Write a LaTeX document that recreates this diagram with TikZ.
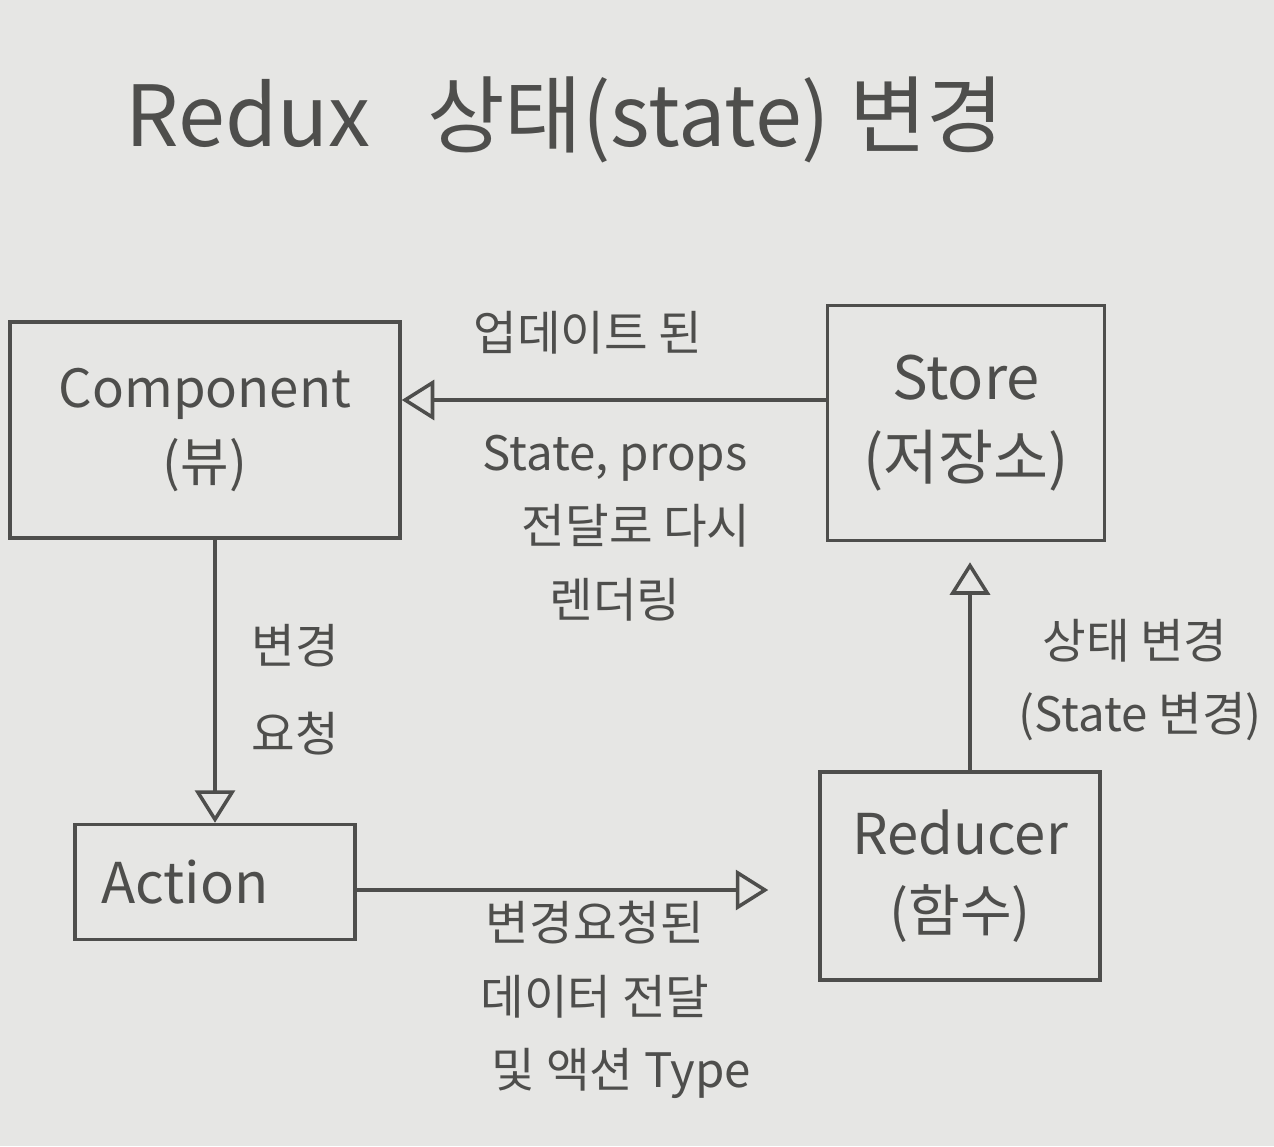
\documentclass[tikz,border=0pt]{standalone}
\usepackage{fontspec}
\setmainfont{Noto Sans CJK KR}
\usetikzlibrary{arrows.meta}
\definecolor{paper}{RGB}{230,230,228}
\definecolor{pencil}{RGB}{78,78,76}
\tikzset{
  box/.style={draw=pencil, line width=2pt, text=pencil, align=center, inner sep=0pt,
    font=\fontsize{30}{42}\selectfont},
  lbl/.style={text=pencil, align=center, inner sep=0pt, font=\fontsize{27}{42}\selectfont},
  arr/.style={draw=pencil, line width=2pt, -{Triangle[open, length=0.65cm, width=0.8cm, line width=2pt]}},
}
\begin{document}
\begin{tikzpicture}[x=0.02cm, y=-0.02cm]
\useasboundingbox[fill=paper] (0,0) rectangle (1274,1146);
% title
\node[text=pencil, font=\fontsize{48}{56}\selectfont] (title) at (565,120) {Redux\ \ \ 상태(state) 변경};
% boxes
\node[box, minimum width=390*0.02cm, minimum height=216*0.02cm] (comp) at (205,430) {Component\\(뷰)};
\node[box, minimum width=277*0.02cm, minimum height=235*0.02cm, font=\fontsize{34}{46}\selectfont] (store) at (966,423) {Store\\(저장소)};
\node[box, minimum width=280*0.02cm, minimum height=115*0.02cm, font=\fontsize{32}{42}\selectfont] (action) at (215,882) {\hspace*{-1.2cm}Action};
\node[box, minimum width=280*0.02cm, minimum height=208*0.02cm, font=\fontsize{32}{44}\selectfont] (reducer) at (960,876) {Reducer\\(함수)};
% helper coordinates
\coordinate (y1) at (0,400);
\coordinate (x2) at (215,0);
\coordinate (y3) at (0,890);
\coordinate (x4) at (970,0);
% connectors
\draw[arr] (store.west |- y1) -- (comp.east |- y1);
\draw[arr] (comp.south -| x2) -- (action.north -| x2);
\draw[arr] (action.east |- y3) -- ([xshift=-1cm]reducer.west |- y3);
\draw[arr] (reducer.north -| x4) -- ([yshift=-0.4cm]store.south -| x4);
% labels
\node[lbl] (l1) at (588,333) {업데이트 된};
\node[lbl] (l2) at (615,528) {State, props\\\ \ \ \ 전달로 다시\\렌더링};
\node[lbl] (l3) at (295,690) {변경\\[8pt]요청};
\node[lbl] (l4) at (1135,680) {상태 변경\\\ (State 변경)};
\node[lbl] (l5) at (595,1000) {변경요청된\\데이터 전달\\\ \ \ \ \ 및 액션 Type};
\end{tikzpicture}
\end{document}
